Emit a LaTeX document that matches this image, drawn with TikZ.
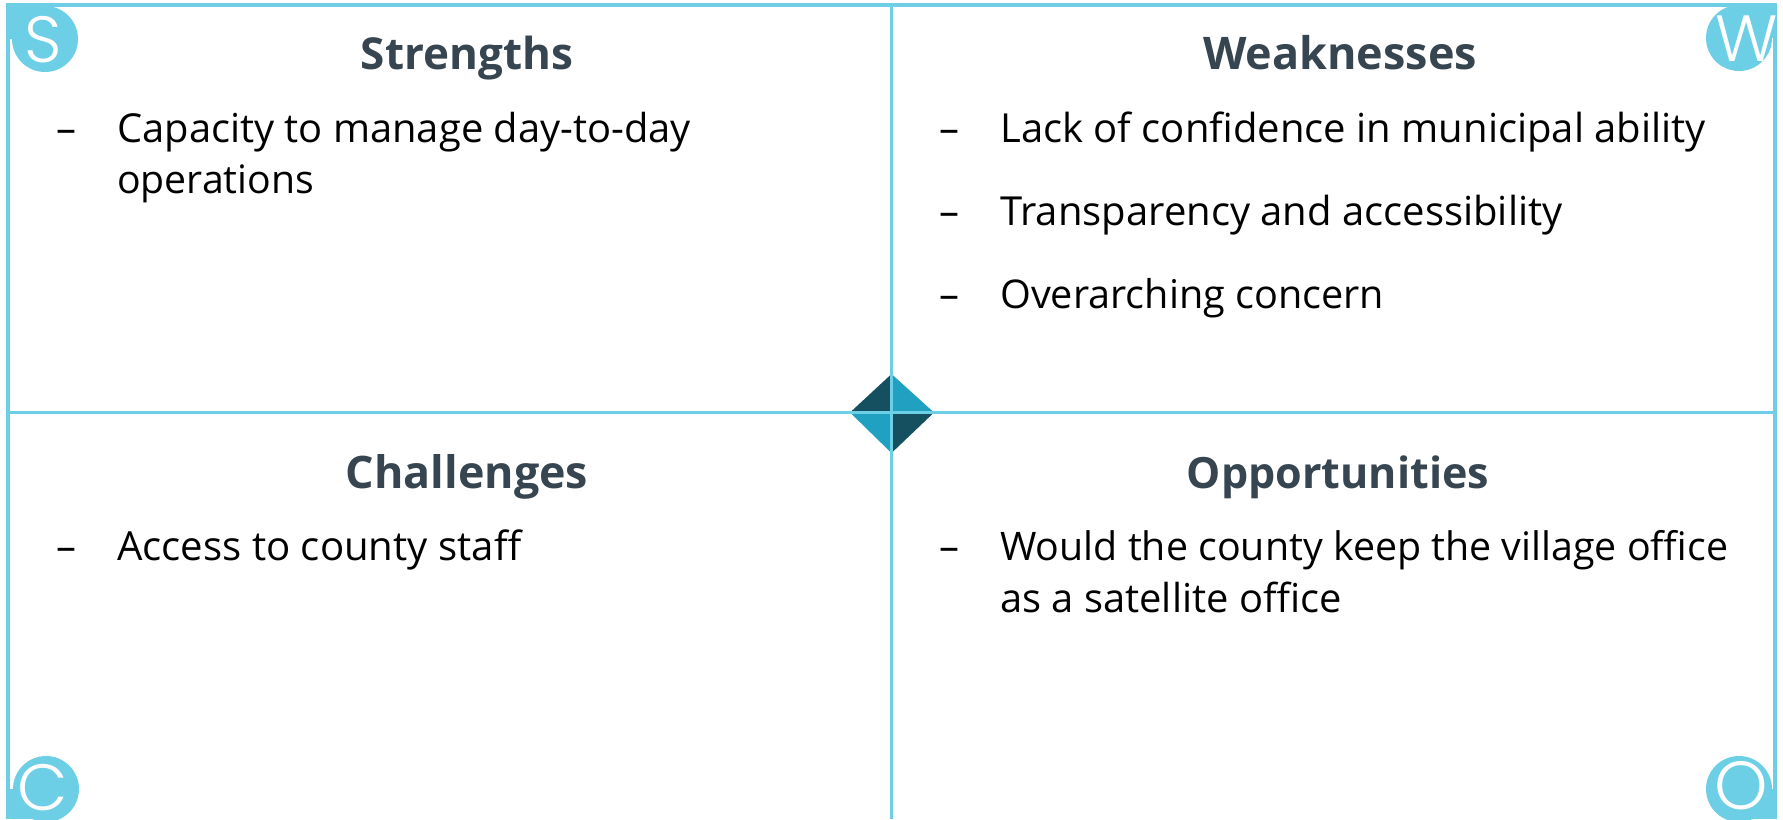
\documentclass[tikz,border=0pt]{standalone}
\usepackage{fontspec}
\setmainfont{Open Sans}
\newfontfamily\letterfont{Poppins Light}
\definecolor{frame}{HTML}{6DCFE6}
\definecolor{dk}{HTML}{14505F}
\definecolor{lt}{HTML}{21A1C2}
\definecolor{head}{HTML}{36454F}
\tikzset{
  head/.style={anchor=base,inner sep=0pt,text=head,font=\fontsize{#1}{38}\selectfont\bfseries},
  head/.default=33,
  body/.style={anchor=base west,inner sep=0pt,text=black,font=\fontsize{#1}{33}\selectfont},
  body/.default=29.9,
  letter/.style={anchor=center,inner sep=0pt,text=white,font=\fontsize{#1}{48}\letterfont},
  letter/.default=49,
  fr/.style={draw=frame,line width=3pt},
  innerline/.style={draw=frame,line width=2.5pt},
  badge/.style={fill=frame}
}
\begin{document}
\begin{tikzpicture}[x=0.75pt,y=-0.75pt]
\useasboundingbox (0,0) rectangle (1783,819);
\fill[white] (0,0) rectangle (1783,819);
\coordinate (tl) at (8,5);
\coordinate (tr) at (1775,5);
\coordinate (bl) at (8,819);
\coordinate (br) at (1775,819);
\coordinate (tm) at (891.5,5);
\coordinate (bm) at (891.5,819);
\coordinate (lm) at (8,412.5);
\coordinate (rm) at (1775,412.5);
\coordinate (c) at (891.5,412.5);
% diamond
\fill[dk] (c) -- (850,412.5) -- (891.5,374) -- cycle;
\fill[lt] (c) -- (891.5,374) -- (934,412.5) -- cycle;
\fill[lt] (c) -- (850,412.5) -- (891.5,453) -- cycle;
\fill[dk] (c) -- (934,412.5) -- (891.5,453) -- cycle;
% lines
\draw[innerline] (tm) -- (bm);
\draw[innerline] (lm) -- (rm);
\draw[fr,line join=round] (bl) -- (tl) -- (tr) -- (br);
% badges
\fill[badge] (6,3) rectangle (45,39);
\fill[badge] (45,39) circle[radius=33];
\fill[badge] (1739,3) rectangle (1777,38);
\fill[badge] (1739,38) circle[radius=33];
\fill[badge] (6,789) rectangle (46,819);
\begin{scope}
\clip (0,0) rectangle (1783,819);
\fill[badge] (46,789) circle[radius=33];
\fill[badge] (1739,789) circle[radius=33];
\end{scope}
\fill[badge] (1739,789) rectangle (1777,819);
\node[letter] (ls) at (43,40) {S};
\node[letter] (lw) at (1747,39) {W};
\node[letter] (lc) at (43,788) {C};
\node[letter=51] (lo) at (1741,786) {O};
% headers
\node[head] (h1) at (467,69.5) {Strengths};
\node[head=33.7] (h2) at (1340,69.5) {Weaknesses};
\node[head=33.6] (h3) at (467,488) {Challenges};
\node[head=32.3] (h4) at (1338,488) {Opportunities};
% body
\node[body] (d1) at (56,142) {–};
\node[body] (t1) at (117,142) {Capacity to manage day-to-day};
\node[body=29.4] (t1b) at (117,193) {operations};
\node[body] (d2) at (939,142) {–};
\node[body=30] (t2) at (1000,142) {Lack of confidence in municipal ability};
\node[body] (d3) at (939,225) {–};
\node[body=30] (t3) at (1000,225) {Transparency and accessibility};
\node[body] (d4) at (939,308) {–};
\node[body=29.7] (t4) at (1000,308) {Overarching concern};
\node[body] (d5) at (56,560) {–};
\node[body=30.1] (t5) at (117,560) {Access to county staff};
\node[body] (d6) at (939,560) {–};
\node[body=29.5] (t6) at (1000,560) {Would the county keep the village office};
\node[body=29.9] (t6b) at (1000,612) {as a satellite office};
\end{tikzpicture}
\end{document}
